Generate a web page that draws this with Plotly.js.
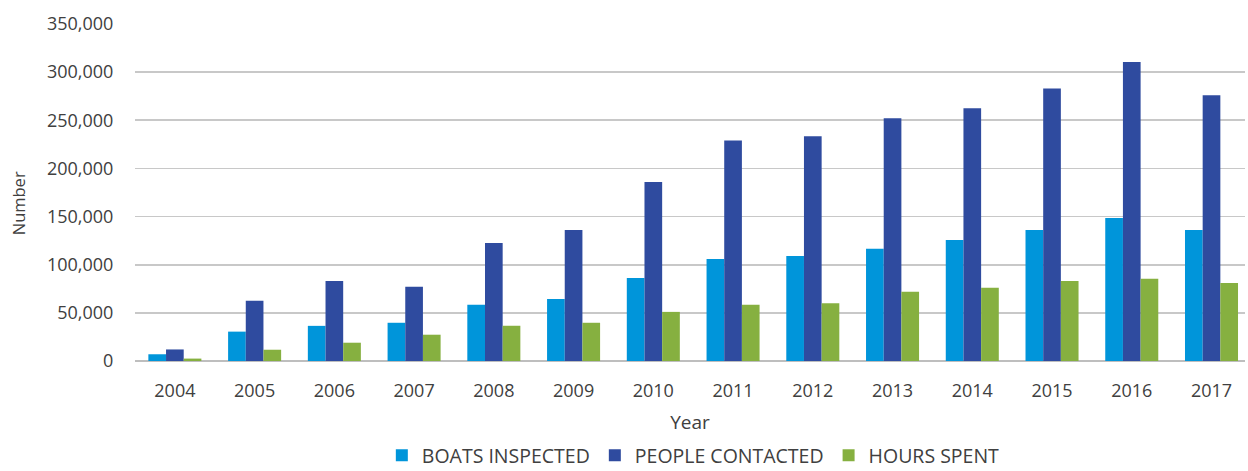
<!DOCTYPE html>
<html>
<head>
<meta charset="utf-8">
<script src="https://cdn.plot.ly/plotly-3.0.1.min.js"></script>
<style>html,body{margin:0;padding:0;background:#fff;}#chart{width:1248px;height:471px;}</style>
</head>
<body>
<div id="chart"></div>
<script>
const years = ["2004","2005","2006","2007","2008","2009","2010","2011","2012","2013","2014","2015","2016","2017"];
const boatsInspected = [7000, 30500, 36500, 39700, 58300, 64500, 86300, 106000, 109000, 116500, 125700, 136000, 148500, 136000];
const peopleContacted = [12000, 62500, 83000, 77000, 122500, 136000, 185800, 229000, 233500, 252000, 262500, 283000, 310500, 276000];
const hoursSpent = [2500, 11700, 19000, 27300, 36600, 39700, 51000, 58500, 60000, 71800, 76000, 83200, 85300, 81000];
const seriesNames = ["BOATS INSPECTED", "PEOPLE CONTACTED", "HOURS SPENT"];
const colors = ["#0095DA", "#2F4B9F", "#86B040"];

const traces = [boatsInspected, peopleContacted, hoursSpent].map((vals, i) => ({
  type: "bar",
  x: years,
  y: vals,
  name: seriesNames[i],
  marker: {color: colors[i], line: {width: 0}},
  hoverinfo: "x+y+name"
}));

const font = "Open Sans, Noto Sans, DejaVu Sans, sans-serif";
const layout = {
  width: 1248, height: 471,
  margin: {l: 135, r: 3, t: 24, b: 110, autoexpand: false},
  paper_bgcolor: "#fff", plot_bgcolor: "#fff",
  barmode: "group", bargap: 0.335, bargroupgap: 0,
  font: {family: font, color: "#404040", size: 18},
  xaxis: {
    type: "category",
    range: [-0.5, 13.42],
    showgrid: false,
    showline: false,
    zeroline: false,
    automargin: false,
    ticks: "outside", ticklen: 13, tickcolor: "rgba(0,0,0,0)",
    tickfont: {size: 18, color: "#404040"},
    title: {text: "Year", font: {size: 19, color: "#404040"}, standoff: 15}
  },
  yaxis: {
    range: [0, 350000],
    tickvals: [0,50000,100000,150000,200000,250000,300000,350000],
    tickformat: ",d",
    automargin: false,
    showgrid: true, gridcolor: "#C8C8C8", gridwidth: 1.6,
    zeroline: true, zerolinecolor: "#BEBEBE", zerolinewidth: 2.2,
    ticks: "outside", ticklen: 17, tickcolor: "rgba(0,0,0,0)",
    tickfont: {size: 18, color: "#404040"}
  },
  annotations: [{
    text: "Number", textangle: -90, showarrow: false,
    xref: "paper", yref: "paper", x: -0.1054, y: 0.468,
    xanchor: "center", yanchor: "middle",
    font: {size: 16.5, color: "#404040"}
  }],
  legend: {
    orientation: "h", x: 0.503, xanchor: "center",
    yref: "container", y: 0.033, yanchor: "middle",
    font: {size: 19.5, color: "#404040"}, traceorder: "normal",
    itemwidth: 30, tracegroupgap: 0
  },
  showlegend: true
};
Plotly.newPlot("chart", traces, layout, {staticPlot: true, displayModeBar: false});
</script>
</body>
</html>
